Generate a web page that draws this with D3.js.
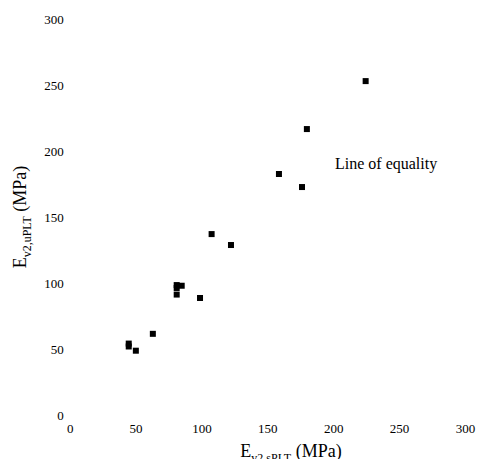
<!DOCTYPE html>
<html>
<head>
<meta charset="utf-8">
<script src="https://cdn.jsdelivr.net/npm/d3@7"></script>
<style>
  body { margin: 0; background: #fff; }
  svg { display: block; }
  svg text { font-family: 'Liberation Serif', 'Times New Roman', serif; }
</style>
</head>
<body>
<svg id="chart" width="478" height="459"></svg>
<script>
// E_v2,sPLT vs E_v2,uPLT, both in MPa
const sPLT = [224.6, 180.0, 158.8, 176.3, 107.7, 122.4, 81.2, 85.0, 81.2, 81.2, 98.9, 63.1, 44.8, 44.8, 50.2];
const uPLT = [253.4, 217.0, 182.9, 173.0, 137.3, 129.0, 98.6, 98.1, 96.4, 91.4, 88.8, 61.6, 54.2, 52.0, 48.8];
const ticks = [0, 50, 100, 150, 200, 250, 300];

const left = 69.7;
const bottom = 415;
const size = 395.3;
const markerSize = 6;

const svg = d3.select('#chart');

const x = d3.scaleLinear().domain([0, 300]).range([left, left + size]);
const y = d3.scaleLinear().domain([0, 300]).range([bottom, bottom - size]);

const xAxis = svg.append('g')
  .attr('transform', `translate(0,${bottom})`)
  .call(d3.axisBottom(x).tickValues(ticks).tickSize(0).tickPadding(9));

const yAxis = svg.append('g')
  .attr('transform', `translate(${left},0)`)
  .call(d3.axisLeft(y).tickValues(ticks).tickSize(0).tickPadding(6));

[xAxis, yAxis].forEach((g) => {
  g.select('.domain').remove();
  g.attr('font-family', null)
    .attr('font-size', null)
    .selectAll('text')
    .attr('fill', '#000')
    .style('font-family', "'Liberation Serif', serif")
    .style('font-size', '13px');
});

svg.append('g')
  .selectAll('rect')
  .data(sPLT.map((d, i) => [d, uPLT[i]]))
  .join('rect')
  .attr('x', (d) => x(d[0]) - markerSize / 2)
  .attr('y', (d) => y(d[1]) - markerSize / 2)
  .attr('width', markerSize)
  .attr('height', markerSize)
  .attr('fill', '#000');

svg.append('text')
  .attr('x', 335)
  .attr('y', 169)
  .style('font-size', '16px')
  .text('Line of equality');

// axis titles with subscripts
const xTitle = svg.append('text')
  .attr('x', 291)
  .attr('y', 457)
  .attr('text-anchor', 'middle')
  .style('font-size', '18px');
xTitle.append('tspan').text('E');
xTitle.append('tspan').attr('dy', 5).style('font-size', '12px').text('v2,sPLT');
xTitle.append('tspan').attr('dy', -5).text(' (MPa)');

const yTitle = svg.append('text')
  .attr('transform', 'translate(26,217) rotate(-90)')
  .attr('text-anchor', 'middle')
  .style('font-size', '18px');
yTitle.append('tspan').text('E');
yTitle.append('tspan').attr('dy', 5).style('font-size', '12px').text('v2,uPLT');
yTitle.append('tspan').attr('dy', -5).text(' (MPa)');
</script>
</body>
</html>
